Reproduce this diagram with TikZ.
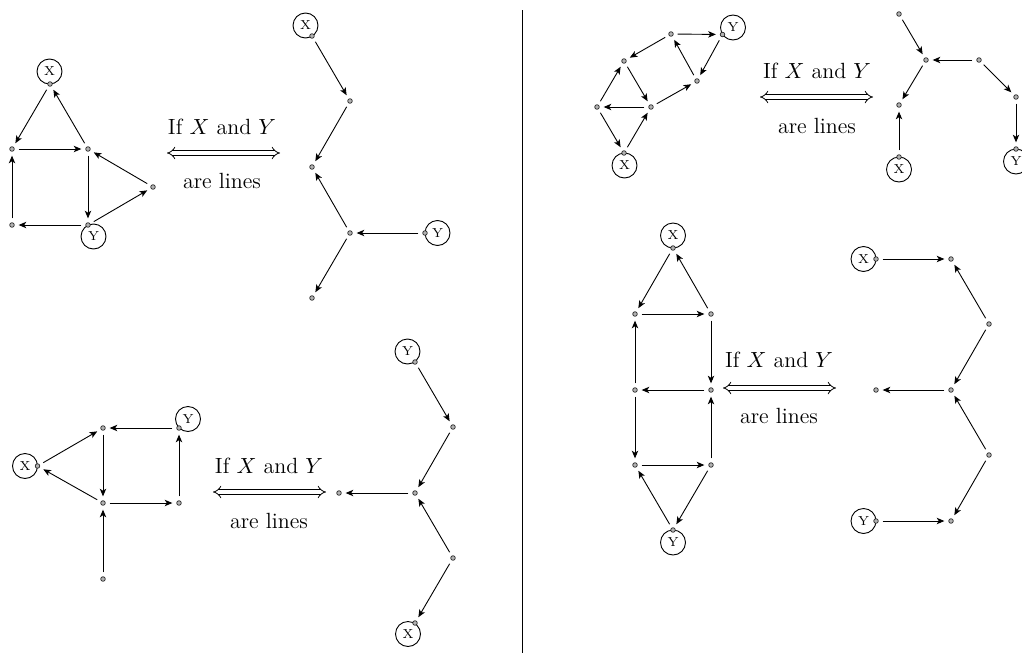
\documentclass[tikz,border=0pt]{standalone}
\usetikzlibrary{arrows.meta}
\tikzset{
  vtx/.style={circle, draw=black!85, fill=black!30, line width=0.35pt, inner sep=0pt, minimum size=2.3pt},
  lab/.style={circle, draw, line width=0.45pt, inner sep=0pt, minimum size=12.5pt, font=\fontsize{6.5}{7}\selectfont},
  arr/.style={-{Stealth[length=3.8pt,width=3.2pt,inset=1pt]}, line width=0.45pt, shorten >=2pt, shorten <=2pt},
  iff/.style={double, double distance=1.8pt, line width=0.4pt, {Implies}-{Implies}},
  txt/.style={font=\fontsize{11}{13}\selectfont, inner sep=0pt}
}
\begin{document}
\begin{tikzpicture}[x=0.5pt, y=-0.5pt]
\useasboundingbox (0,0) rectangle (1022,653);
% divider
\coordinate (dtop) at (522,10);
\coordinate (dbot) at (522,653);
\draw[line width=0.5pt] (dtop) -- (dbot);

% ---------- top left, left graph
\node[lab] (tlX) at (49.5,71.5) {X};
\node[lab] (tlY) at (93.5,236.5) {Y};
\node[vtx] (tl1) at (50,84) {};
\node[vtx] (tl2) at (12,149) {};
\node[vtx] (tl3) at (88,149) {};
\node[vtx] (tl4) at (153,187) {};
\node[vtx] (tl5) at (12,225) {};
\node[vtx] (tl6) at (88,225) {};
\draw[arr] (tl1) -- (tl2);
\draw[arr] (tl3) -- (tl1);
\draw[arr] (tl2) -- (tl3);
\draw[arr] (tl3) -- (tl6);
\draw[arr] (tl6) -- (tl4);
\draw[arr] (tl4) -- (tl3);
\draw[arr] (tl6) -- (tl5);
\draw[arr] (tl5) -- (tl2);

% top left, arrow
\coordinate (tla) at (167,153);
\coordinate (tlb) at (280,153);
\draw[iff] (tla) -- (tlb);
\node[txt] (tlt1) at (222,127) {If $X$ and $Y$};
\node[txt] (tlt2) at (222,181) {are lines};

% top left, right graph
\node[lab] (trX0) at (305.5,25.5) {X};
\node[lab] (trY0) at (437.5,233) {Y};
\node[vtx] (m1) at (312,36) {};
\node[vtx] (m2) at (350,101) {};
\node[vtx] (m3) at (312,167) {};
\node[vtx] (m4) at (350,233) {};
\node[vtx] (m5) at (425,233) {};
\node[vtx] (m6) at (312,298) {};
\draw[arr] (m1) -- (m2);
\draw[arr] (m2) -- (m3);
\draw[arr] (m4) -- (m3);
\draw[arr] (m5) -- (m4);
\draw[arr] (m4) -- (m6);

% ---------- bottom left, left graph
\node[lab] (blX) at (25,466) {X};
\node[lab] (blY) at (188,419) {Y};
\node[vtx] (b1) at (37.5,466) {};
\node[vtx] (b2) at (103,428) {};
\node[vtx] (b3) at (179,428) {};
\node[vtx] (b4) at (103,503) {};
\node[vtx] (b5) at (179,503) {};
\node[vtx] (b6) at (103,579) {};
\draw[arr] (b1) -- (b2);
\draw[arr] (b3) -- (b2);
\draw[arr] (b2) -- (b4);
\draw[arr] (b4) -- (b1);
\draw[arr] (b4) -- (b5);
\draw[arr] (b5) -- (b3);
\draw[arr] (b6) -- (b4);

% bottom left, arrow
\coordinate (bla) at (213,492);
\coordinate (blb) at (326,492);
\draw[iff] (bla) -- (blb);
\node[txt] (blt1) at (269,466) {If $X$ and $Y$};
\node[txt] (blt2) at (269,521) {are lines};

% bottom left, right graph
\node[lab] (brY0) at (407.5,351.5) {Y};
\node[lab] (brX0) at (408,634) {X};
\node[vtx] (c1) at (415,362) {};
\node[vtx] (c2) at (453,427) {};
\node[vtx] (c3) at (415,493) {};
\node[vtx] (c4) at (339,493) {};
\node[vtx] (c5) at (453,558) {};
\node[vtx] (c6) at (415,623) {};
\draw[arr] (c1) -- (c2);
\draw[arr] (c2) -- (c3);
\draw[arr] (c3) -- (c4);
\draw[arr] (c5) -- (c3);
\draw[arr] (c5) -- (c6);

% ---------- top right, left graph
\node[lab] (trY) at (733,27.5) {Y};
\node[lab] (trX) at (624.5,165.5) {X};
\node[vtx] (ta) at (671,34) {};
\node[vtx] (tY) at (722.5,34.5) {};
\node[vtx] (tb) at (624,61) {};
\node[vtx] (tc) at (697,81) {};
\node[vtx] (td) at (597,107) {};
\node[vtx] (te) at (651,107) {};
\node[vtx] (tX) at (624,153) {};
\draw[arr] (ta) -- (tY);
\draw[arr] (ta) -- (tb);
\draw[arr] (tb) -- (te);
\draw[arr] (te) -- (tc);
\draw[arr] (tc) -- (ta);
\draw[arr] (tY) -- (tc);
\draw[arr] (te) -- (td);
\draw[arr] (td) -- (tb);
\draw[arr] (td) -- (tX);
\draw[arr] (tX) -- (te);

% top right, arrow
\coordinate (tra) at (760,97);
\coordinate (trb) at (873,97);
\draw[iff] (tra) -- (trb);
\node[txt] (trt1) at (817,71) {If $X$ and $Y$};
\node[txt] (trt2) at (817,126) {are lines};

% top right, right graph
\node[lab] (urX) at (899,169.5) {X};
\node[lab] (urY) at (1016,161.5) {Y};
\node[vtx] (u1) at (899,14) {};
\node[vtx] (u2) at (926,60) {};
\node[vtx] (u3) at (979,60) {};
\node[vtx] (u4) at (899,105) {};
\node[vtx] (u5) at (1016,97) {};
\node[vtx] (u6) at (899,157) {};
\node[vtx] (u7) at (1016,149) {};
\draw[arr] (u1) -- (u2);
\draw[arr] (u3) -- (u2);
\draw[arr] (u2) -- (u4);
\draw[arr] (u6) -- (u4);
\draw[arr] (u3) -- (u5);
\draw[arr] (u5) -- (u7);

% ---------- bottom right, left graph
\node[lab] (rX) at (673,235.5) {X};
\node[lab] (rY) at (673,542.5) {Y};
\node[vtx] (r0) at (673,248) {};
\node[vtx] (ra) at (635,314) {};
\node[vtx] (rb) at (711,314) {};
\node[vtx] (rc) at (635,390) {};
\node[vtx] (rd) at (711,390) {};
\node[vtx] (re) at (635,465) {};
\node[vtx] (rf) at (711,465) {};
\node[vtx] (r9) at (673,530) {};
\draw[arr] (r0) -- (ra);
\draw[arr] (rb) -- (r0);
\draw[arr] (ra) -- (rb);
\draw[arr] (rb) -- (rd);
\draw[arr] (rd) -- (rc);
\draw[arr] (rc) -- (ra);
\draw[arr] (rc) -- (re);
\draw[arr] (re) -- (rf);
\draw[arr] (rf) -- (rd);
\draw[arr] (rf) -- (r9);
\draw[arr] (r9) -- (re);

% bottom right, arrow
\coordinate (bra) at (723,388);
\coordinate (brb) at (836,388);
\draw[iff] (bra) -- (brb);
\node[txt] (brt1) at (779,360) {If $X$ and $Y$};
\node[txt] (brt2) at (779,416) {are lines};

% bottom right, right graph
\node[lab] (sX) at (863.5,259) {X};
\node[lab] (sY) at (863.5,521) {Y};
\node[vtx] (s0) at (876,259) {};
\node[vtx] (sa) at (951,259) {};
\node[vtx] (sb) at (989,324) {};
\node[vtx] (sc) at (951,390) {};
\node[vtx] (sd) at (876,390) {};
\node[vtx] (se) at (989,455) {};
\node[vtx] (sf) at (951,521) {};
\node[vtx] (s9) at (876,521) {};
\draw[arr] (s0) -- (sa);
\draw[arr] (sb) -- (sa);
\draw[arr] (sb) -- (sc);
\draw[arr] (sc) -- (sd);
\draw[arr] (se) -- (sc);
\draw[arr] (se) -- (sf);
\draw[arr] (s9) -- (sf);
\end{tikzpicture}
\end{document}
